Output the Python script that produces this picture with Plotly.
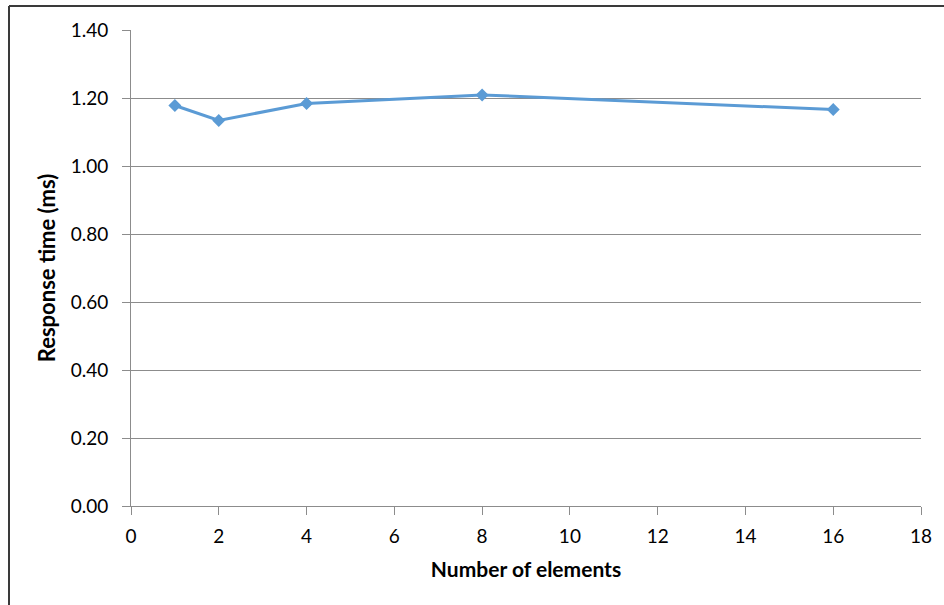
import plotly.graph_objects as go

# Response time measured for different numbers of elements
elements = [1, 2, 4, 8, 16]
response_ms = [1.178, 1.134, 1.184, 1.209, 1.166]

x_ticks = [0, 2, 4, 6, 8, 10, 12, 14, 16, 18]
y_ticks = [0.0, 0.2, 0.4, 0.6, 0.8, 1.0, 1.2, 1.4]

FONT = "Lato, Calibri, Carlito, sans-serif"
GRID = "#8c8c8c"

fig = go.Figure(
    go.Scatter(
        x=elements,
        y=response_ms,
        mode="lines+markers",
        line=dict(color="#5B9BD5", width=3),
        marker=dict(symbol="diamond", size=10, color="#5B9BD5"),
        showlegend=False,
    )
)

L, R, T, B = 131, 23, 30, 99
W, H = 944, 605
pw, ph = W - L - R, H - T - B


def px_x(px):
    return (px - L) / pw


def px_y(py):
    return (H - B - py) / ph


fig.update_layout(
    width=W,
    height=H,
    margin=dict(l=L, r=R, t=T, b=B),
    paper_bgcolor="white",
    plot_bgcolor="white",
    font=dict(family=FONT, size=19, color="#000000"),
    xaxis=dict(
        range=[0, 18],
        tickvals=x_ticks,
        ticktext=[str(v) for v in x_ticks],
        showgrid=False,
        zeroline=False,
        showline=True,
        linecolor=GRID,
        linewidth=1,
        ticks="outside",
        ticklen=8,
        tickcolor=GRID,
        tickfont=dict(size=19),
        ticklabelstandoff=5,
        title=dict(text="<b>Number of elements</b>", font=dict(size=21), standoff=16),
    ),
    yaxis=dict(
        range=[0, 1.4],
        tickvals=y_ticks,
        ticktext=[f"{v:.2f}" for v in y_ticks],
        showgrid=True,
        gridcolor=GRID,
        gridwidth=1,
        zeroline=False,
        showline=True,
        linecolor=GRID,
        linewidth=1,
        ticks="outside",
        ticklen=8,
        tickcolor=GRID,
        tickfont=dict(size=19),
        ticklabelstandoff=10,
        title=dict(text="<b>Response time (ms)</b>", font=dict(size=22), standoff=8),
    ),
    shapes=[
        # outer chart frame (top and left edges)
        dict(type="line", xref="paper", yref="paper",
             x0=px_x(9), y0=px_y(6), x1=px_x(960), y1=px_y(6),
             line=dict(color="#3a3a3a", width=2)),
        dict(type="line", xref="paper", yref="paper",
             x0=px_x(9), y0=px_y(6), x1=px_x(9), y1=px_y(640),
             line=dict(color="#3a3a3a", width=2)),
    ],
)

fig.write_html("out.html")
